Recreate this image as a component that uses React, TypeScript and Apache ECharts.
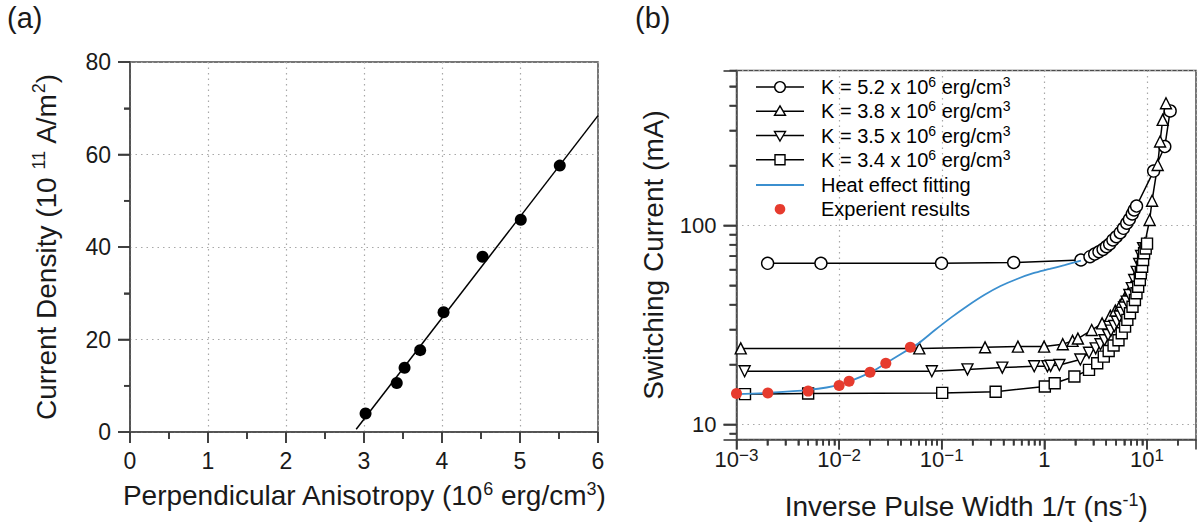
import React, { useEffect, useRef } from "react";
import * as echarts from "echarts";

// ---------- Panel (a) data ----------
const anisotropy = [3.02, 3.42, 3.52, 3.72, 4.02, 4.52, 5.01, 5.51];
const currentDensity = [4.0, 10.6, 13.9, 17.7, 25.9, 37.9, 45.9, 57.6];
const fitAnisotropy = [2.9, 6.0];
const fitDensity = [0.6, 68.4];
const ticksAX = [0, 0.5, 1, 1.5, 2, 2.5, 3, 3.5, 4, 4.5, 5, 5.5, 6];
const ticksAY = [0, 10, 20, 30, 40, 50, 60, 70, 80];

// ---------- Panel (b) data ----------
const k52X = [0.00201, 0.00665, 0.0995, 0.502, 2.27, 2.78, 3.09, 3.4, 3.73, 4.02, 4.32, 4.65, 5.02, 5.48, 5.89, 6.34, 6.73, 7.18, 7.5, 7.9, 11.6, 14.9, 16.8];
const k52Y = [64.5, 64.5, 64.5, 65.1, 67.0, 69.6, 71.8, 73.7, 75.8, 78.2, 80.6, 84.5, 87.7, 91.9, 96.7, 102.5, 107.3, 114.1, 119.5, 125.1, 187.5, 249, 376];

const k38X = [0.0011, 0.0604, 0.264, 0.552, 0.993, 1.51, 1.88, 2.12, 2.89, 3.65, 4.39, 4.91, 5.48, 6.11, 6.83, 7.35, 7.9, 8.38, 8.85, 9.5, 10.6, 11.2, 12.7, 13.4, 14.2, 15.3];
const k38Y = [24.1, 24.1, 24.4, 24.6, 24.6, 25.3, 26.3, 27.0, 29.8, 32.2, 35.1, 37.3, 39.8, 43.5, 47.3, 51.1, 55.7, 60.9, 70.0, 81.0, 106.4, 133, 201, 264, 339, 411];

const k35X = [0.0012, 0.08, 0.178, 0.389, 0.796, 1.07, 1.15, 1.4, 2.24, 2.72, 3.16, 3.52, 3.85, 4.17, 4.45, 4.8, 5.08, 5.39, 5.67, 5.98, 6.34, 6.73, 7.11, 7.5, 7.93, 8.38, 8.75, 9.16];
const k35Y = [18.5, 18.5, 18.9, 19.3, 19.6, 19.6, 19.7, 19.9, 21.2, 22.9, 24.1, 25.3, 26.5, 28.1, 29.6, 31.2, 32.8, 34.8, 36.4, 38.7, 41.4, 44.7, 48.4, 53.2, 58.4, 64.0, 70.2, 76.9];

const k34X = [0.00121, 0.00499, 0.101, 0.335, 1.01, 1.26, 1.96, 2.72, 3.27, 3.79, 4.23, 4.72, 5.27, 5.67, 6.11, 6.43, 6.82, 7.22, 7.62, 7.89, 8.2, 8.51, 8.7, 8.96, 9.16, 9.36, 9.71, 10.0];
const k34Y = [14.2, 14.3, 14.4, 14.6, 15.5, 16.1, 17.4, 18.8, 20.3, 21.9, 23.4, 24.9, 26.5, 28.7, 31.0, 33.5, 36.2, 39.0, 42.2, 45.6, 49.2, 53.2, 57.5, 62.0, 67.0, 72.4, 76.5, 81.0];

const heatX = [0.001, 0.002, 0.005, 0.01, 0.02, 0.0285, 0.0494, 0.0596, 0.0859, 0.124, 0.179, 0.259, 0.374, 0.541, 0.78, 1.13, 1.57, 2.27];
const heatY = [14.2, 14.4, 14.9, 15.8, 18.2, 20.3, 24.1, 25.6, 29.8, 34.5, 39.5, 44.7, 49.6, 53.8, 57.5, 60.4, 63.2, 66.6];

const expX = [0.001, 0.00202, 0.00499, 0.01, 0.0125, 0.02, 0.0285, 0.0494];
const expY = [14.3, 14.4, 14.7, 15.7, 16.5, 18.3, 20.3, 24.4];

// log-axis tick positions
const minorMultipliers = [2, 3, 4, 5, 6, 7, 8, 9];
const decadesX = [0.001, 0.01, 0.1, 1, 10];
const decadesY = [1, 10, 100];

const X_MIN_B = 0.001, X_MAX_B = 30, Y_MIN_B = 8.4, Y_MAX_B = 600;

const seriesNames = [
  "K = 5.2 x 10^6 erg/cm^3",
  "K = 3.8 x 10^6 erg/cm^3",
  "K = 3.5 x 10^6 erg/cm^3",
  "K = 3.4 x 10^6 erg/cm^3",
  "Heat effect fitting",
  "Experient results",
];
const legendLabels = [
  "{t|K = 5.2 x 10}{s|6}{t| erg/cm}{s|3}",
  "{t|K = 3.8 x 10}{s|6}{t| erg/cm}{s|3}",
  "{t|K = 3.5 x 10}{s|6}{t| erg/cm}{s|3}",
  "{t|K = 3.4 x 10}{s|6}{t| erg/cm}{s|3}",
  "{t|Heat effect fitting}",
  "{t|Experient results}",
];

const FONT = "'Liberation Sans', Arial, Helvetica, sans-serif";
const INK = "#1a1a1a";
const AX = "#4a4a4a";
const TICK = "#3a3a3a";
const GRIDC = "#a8a8a8";
const BLUE = "#3b8fcf";
const RED = "#e63b2e";

const zip = (xs: number[], ys: number[]) => xs.map((x, i) => [x, ys[i]]);

const rich = (main: number, sup: number, lh: number) => ({
  t: { fontSize: main, lineHeight: lh, fontFamily: FONT, color: INK },
  s: { fontSize: sup, lineHeight: sup, verticalAlign: "top", fontFamily: FONT, color: INK },
});

const isPow10 = (v: number) => {
  const l = Math.log10(v);
  return Math.abs(l - Math.round(l)) < 1e-6;
};

const logTicks = (decades: number[], lo: number, hi: number) => {
  const out: number[] = [];
  decades.forEach((d) => {
    if (d >= lo && d <= hi) out.push(d);
    minorMultipliers.forEach((m) => {
      const v = d * m;
      if (v > lo && v < hi) out.push(v);
    });
  });
  return out;
};

const ts = () => ({ color: TICK, width: 1.6 });
const ls = () => ({ color: AX, width: 1.5 });
const ss = () => ({ color: GRIDC, width: 1.2, type: [1.5, 4] });

// legend layout (pixels)
const LEG_X0 = 756;
const LEG_X1 = 804;
const LEG_TX = 821;
const LEG_ROWS = [87, 111.3, 135.5, 159.7, 185, 209.2];

function baseGraphics() {
  const els: any[] = [
    { type: "text", left: 7, top: 3, style: { text: "(a)", fontSize: 29, fontFamily: FONT, fill: INK } },
    { type: "text", left: 635, top: 3, style: { text: "(b)", fontSize: 29, fontFamily: FONT, fill: INK } },
  ];
  const mid = (LEG_X0 + LEG_X1) / 2;
  const mk = () => ({ fill: "#fff", stroke: "#000", lineWidth: 1.4 });
  LEG_ROWS.forEach((y, i) => {
    if (i < 4) {
      els.push({ type: "line", z: 100, shape: { x1: LEG_X0, y1: y, x2: LEG_X1, y2: y }, style: { stroke: "#000", lineWidth: 1.5 } });
    }
    if (i === 0) els.push({ type: "circle", z: 101, shape: { cx: mid, cy: y, r: 5.3 }, style: mk() });
    if (i === 1) els.push({ type: "polygon", z: 101, shape: { points: [[mid, y - 5.5], [mid + 5.5, y + 4], [mid - 5.5, y + 4]] }, style: mk() });
    if (i === 2) els.push({ type: "polygon", z: 101, shape: { points: [[mid, y + 5.5], [mid + 5.5, y - 4], [mid - 5.5, y - 4]] }, style: mk() });
    if (i === 3) els.push({ type: "rect", z: 101, shape: { x: mid - 5, y: y - 5, width: 10, height: 10 }, style: mk() });
    if (i === 4) els.push({ type: "line", z: 100, shape: { x1: LEG_X0, y1: y, x2: LEG_X1, y2: y }, style: { stroke: BLUE, lineWidth: 1.8 } });
    if (i === 5) els.push({ type: "circle", z: 101, shape: { cx: mid, cy: y, r: 5.3 }, style: { fill: RED } });
    els.push({
      type: "text",
      z: 101,
      x: LEG_TX,
      y,
      style: { text: legendLabels[i], rich: rich(20, 14, 24), verticalAlign: "middle", align: "left" },
    });
  });
  return els;
}

export default function App() {
  const ref = useRef<HTMLDivElement>(null);
  useEffect(() => {
    document.body.style.margin = "0";
    if (!ref.current) return;
    const chart = echarts.init(ref.current, null, { renderer: "svg" });

    const base = baseGraphics();
    const option: any = {
      animation: false,
      grid: [
        { left: 130, top: 62, width: 468, height: 370, show: true, borderColor: AX, borderWidth: 1.5 },
        { left: 736.5, top: 70.5, width: 467.4, height: 369, show: true, borderColor: AX, borderWidth: 1.5 },
      ],
      graphic: base,
      xAxis: [
        {
          gridIndex: 0,
          type: "value",
          min: 0,
          max: 6,
          interval: 1,
          axisLine: { show: true, lineStyle: ls() },
          axisTick: { show: true, length: 11, lineStyle: ts() },
          minorTick: { show: true, splitNumber: 2, length: 7, lineStyle: ts() },
          axisLabel: { fontSize: 23, lineHeight: 28, color: INK, fontFamily: FONT, margin: 15 },
          splitLine: { show: true, lineStyle: ss() },
          name: "{t|Perpendicular Anisotropy (10}{s|6}{t| erg/cm}{s|3}{t|)}",
          nameLocation: "middle",
          nameGap: 34,
          nameTextStyle: { rich: rich(28, 18, 32) },
        },
        {
          gridIndex: 1,
          type: "log",
          logBase: 10,
          min: X_MIN_B,
          max: X_MAX_B,
          axisLine: { show: true, lineStyle: ls() },
          axisTick: { show: true, length: 10, lineStyle: ts() },
          minorTick: { show: true, splitNumber: 9, length: 6, lineStyle: ts() },
          axisLabel: {
            margin: 7,
            formatter: (v: number) => {
              if (!isPow10(v)) return "";
              const e = Math.round(Math.log10(v));
              if (e === 0) return "{t|1}";
              return "{t|10}{s|" + (e < 0 ? "\u2212" + -e : String(e)) + "}";
            },
            rich: rich(22, 17, 26),
          },
          splitLine: { show: true, lineStyle: ss() },
          name: "{t|Inverse Pulse Width 1/\u03c4 (ns}{s|-1}{t|)}",
          nameLocation: "middle",
          nameGap: 51,
          nameTextStyle: { rich: rich(28, 18, 32) },
        },
      ],
      yAxis: [
        {
          gridIndex: 0,
          type: "value",
          min: 0,
          max: 80,
          interval: 20,
          axisLine: { show: true, lineStyle: ls() },
          axisTick: { show: true, length: 12, lineStyle: ts() },
          minorTick: { show: true, splitNumber: 2, length: 6, lineStyle: ts() },
          axisLabel: { fontSize: 23, color: INK, fontFamily: FONT, margin: 19 },
          splitLine: { show: true, lineStyle: ss() },
          name: "{t|Current Density (10 }{s|11}{t| A/m}{s|2}{t|)}",
          nameLocation: "middle",
          nameGap: 68,
          nameTextStyle: { rich: rich(28, 18, 32) },
        },
        {
          gridIndex: 1,
          type: "log",
          logBase: 10,
          min: Y_MIN_B,
          max: Y_MAX_B,
          axisLine: { show: true, lineStyle: ls() },
          axisTick: { show: true, length: 13, lineStyle: ts() },
          minorTick: { show: true, splitNumber: 9, length: 7, lineStyle: ts() },
          axisLabel: {
            fontSize: 22,
            color: INK,
            fontFamily: FONT,
            margin: 20,
            formatter: (v: number) => (isPow10(v) ? String(Math.round(v)) : ""),
          },
          splitLine: { show: true, lineStyle: ss() },
          name: "{t|Switching Current (mA)}",
          nameLocation: "middle",
          nameGap: 67,
          nameTextStyle: { rich: rich(28, 18, 32) },
        },
      ],
      series: [
        {
          type: "line",
          xAxisIndex: 0,
          yAxisIndex: 0,
          data: zip(fitAnisotropy, fitDensity),
          showSymbol: false,
          symbol: "none",
          clip: false,
          lineStyle: { color: "#000", width: 1.5 },
          itemStyle: { color: "#000" },
          z: 3,
        },
        {
          type: "scatter",
          xAxisIndex: 0,
          yAxisIndex: 0,
          data: zip(anisotropy, currentDensity),
          symbolSize: 12,
          clip: false,
          itemStyle: { color: "#000", opacity: 1 },
          z: 4,
        },
        {
          name: seriesNames[0],
          type: "line",
          xAxisIndex: 1,
          yAxisIndex: 1,
          data: zip(k52X, k52Y),
          symbol: "circle",
          symbolSize: 12,
          showAllSymbol: true,
          clip: false,
          lineStyle: { color: "#000", width: 1.5 },
          itemStyle: { color: "#fff", borderColor: "#000", borderWidth: 1.4 },
          z: 3,
        },
        {
          name: seriesNames[1],
          type: "line",
          xAxisIndex: 1,
          yAxisIndex: 1,
          data: zip(k38X, k38Y),
          symbol: "triangle",
          symbolSize: 11,
          showAllSymbol: true,
          clip: false,
          lineStyle: { color: "#000", width: 1.5 },
          itemStyle: { color: "#fff", borderColor: "#000", borderWidth: 1.4 },
          z: 3,
        },
        {
          name: seriesNames[2],
          type: "line",
          xAxisIndex: 1,
          yAxisIndex: 1,
          data: zip(k35X, k35Y),
          symbol: "triangle",
          symbolRotate: 180,
          symbolSize: 11,
          showAllSymbol: true,
          clip: false,
          lineStyle: { color: "#000", width: 1.5 },
          itemStyle: { color: "#fff", borderColor: "#000", borderWidth: 1.4 },
          z: 3,
        },
        {
          name: seriesNames[3],
          type: "line",
          xAxisIndex: 1,
          yAxisIndex: 1,
          data: zip(k34X, k34Y),
          symbol: "rect",
          symbolSize: 11,
          showAllSymbol: true,
          clip: false,
          lineStyle: { color: "#000", width: 1.5 },
          itemStyle: { color: "#fff", borderColor: "#000", borderWidth: 1.4 },
          z: 3,
        },
        {
          name: seriesNames[4],
          type: "line",
          xAxisIndex: 1,
          yAxisIndex: 1,
          data: zip(heatX, heatY),
          smooth: 0.3,
          showSymbol: false,
          symbol: "none",
          clip: false,
          lineStyle: { color: BLUE, width: 1.8 },
          itemStyle: { color: BLUE },
          z: 4,
        },
        {
          name: seriesNames[5],
          type: "scatter",
          xAxisIndex: 1,
          yAxisIndex: 1,
          data: zip(expX, expY),
          symbolSize: 11,
          clip: false,
          itemStyle: { color: RED, opacity: 1 },
          z: 5,
        },
      ],
    };

    chart.setOption(option);

    // Tick marks positioned through the axes' own scales (convertToPixel).
    const tickEls: any[] = [];
    const addX = (gi: number, vals: number[], yVal: number, isMajor: (v: number) => boolean, maj: number, min: number) => {
      vals.forEach((v) => {
        const p: any = chart.convertToPixel({ gridIndex: gi } as any, [v, yVal]);
        if (!p || !isFinite(p[0]) || !isFinite(p[1])) return;
        const len = isMajor(v) ? maj : min;
        tickEls.push({ type: "line", z: 60, silent: true, shape: { x1: p[0], y1: p[1], x2: p[0], y2: p[1] + len }, style: { stroke: TICK, lineWidth: 1.6 } });
      });
    };
    const addY = (gi: number, vals: number[], xVal: number, isMajor: (v: number) => boolean, maj: number, min: number) => {
      vals.forEach((v) => {
        const p: any = chart.convertToPixel({ gridIndex: gi } as any, [xVal, v]);
        if (!p || !isFinite(p[0]) || !isFinite(p[1])) return;
        const len = isMajor(v) ? maj : min;
        tickEls.push({ type: "line", z: 60, silent: true, shape: { x1: p[0] - len, y1: p[1], x2: p[0], y2: p[1] }, style: { stroke: TICK, lineWidth: 1.6 } });
      });
    };
    try {
      addX(0, ticksAX, 0, (v) => Math.abs(v - Math.round(v)) < 1e-9, 11, 7);
      addY(0, ticksAY, 0, (v) => v % 20 === 0, 12, 6);
      addX(1, logTicks(decadesX, X_MIN_B, X_MAX_B), Y_MIN_B, isPow10, 10, 6);
      addY(1, [...logTicks(decadesY, Y_MIN_B, Y_MAX_B), Y_MAX_B], X_MIN_B, isPow10, 13, 7);
      if (tickEls.length) chart.setOption({ graphic: [...base, ...tickEls] });
    } catch (e) {
      // keep chart as is
    }

    return () => chart.dispose();
  }, []);

  return (
    <div
      ref={ref}
      style={{ position: "fixed", left: 0, top: 0, width: 1199, height: 529, background: "#fff" }}
    />
  );
}
